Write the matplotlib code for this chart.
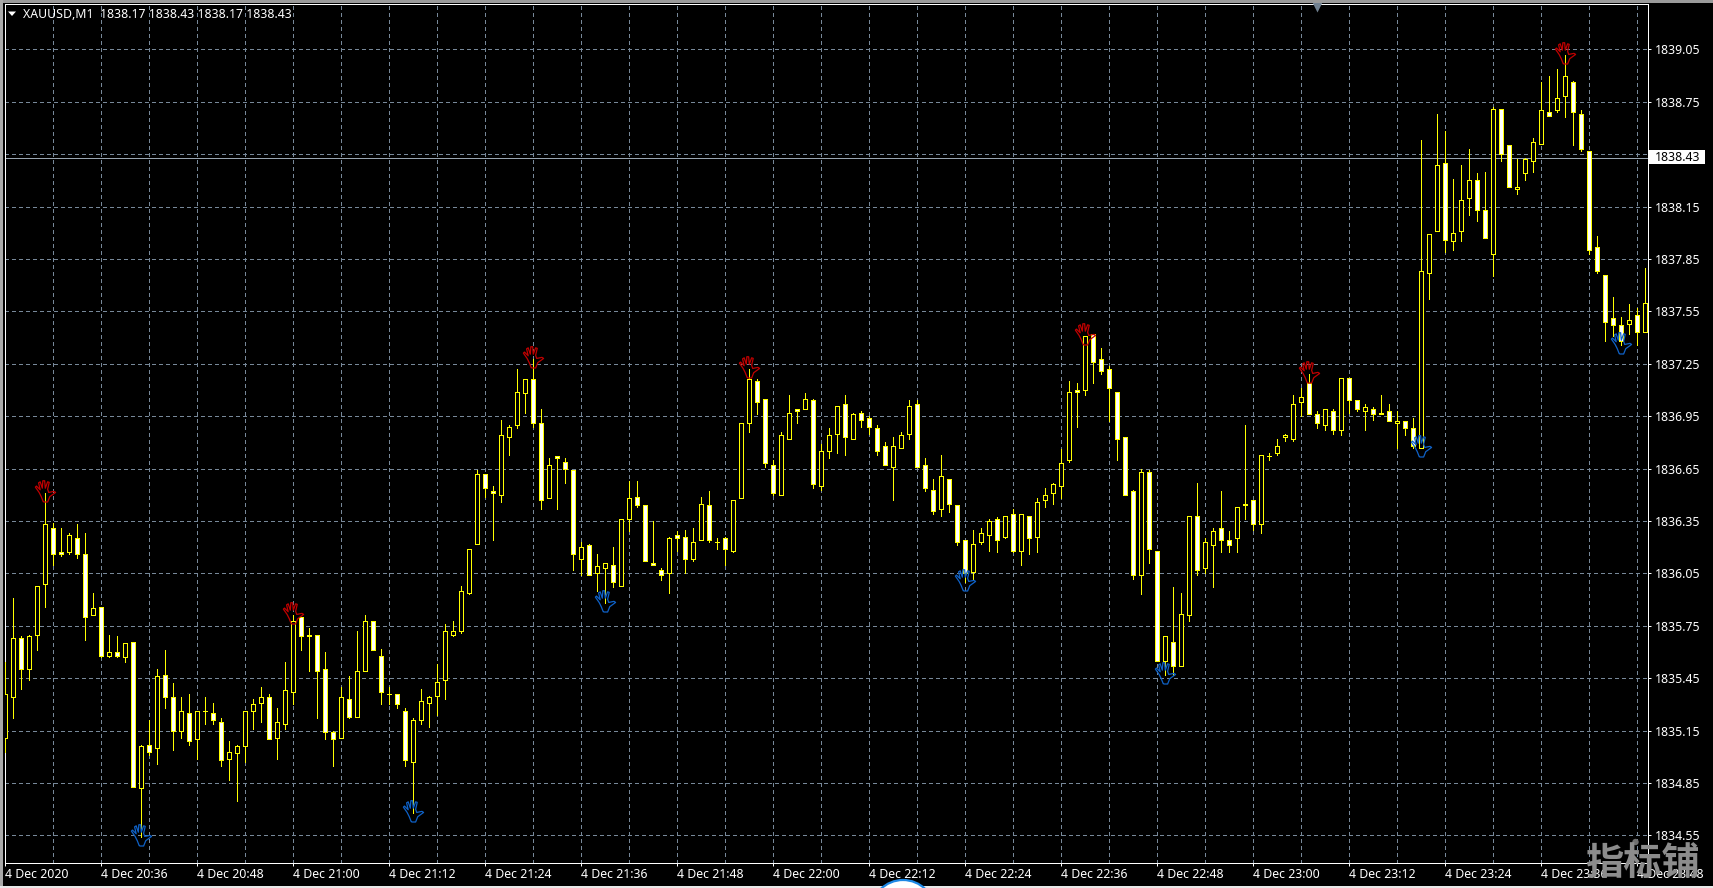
import numpy as np
import matplotlib
matplotlib.use("Agg")
import matplotlib.pyplot as plt
from matplotlib.path import Path
from matplotlib.patches import Rectangle, Circle, Polygon
from matplotlib.transforms import Affine2D, blended_transform_factory

BASE = 1800
opens_rel = [
35.11,35.34,35.68,35.50,35.70,35.99,36.31,36.17,36.17,36.25,
36.16,35.81,35.86,35.58,35.60,35.57,35.66,34.82,35.07,35.05,
35.47,35.34,35.15,35.25,35.10,35.26,35.25,35.20,34.99,35.02,
35.06,35.26,35.31,35.34,35.11,35.19,35.37,35.80,35.70,35.70,
35.50,35.14,35.11,35.33,35.23,35.49,35.78,35.58,35.36,35.36,
35.26,34.97,35.21,35.31,35.35,35.44,35.70,35.72,35.94,36.22,
36.62,36.52,36.50,36.83,36.90,37.08,37.16,36.91,36.48,36.72,
36.69,36.64,36.13,36.21,36.05,36.08,36.10,35.98,36.36,36.49,
36.44,36.11,36.07,36.05,36.27,36.26,36.13,36.24,36.44,36.23,
36.25,36.18,36.48,36.91,37.15,37.05,36.67,36.50,36.82,36.99,
36.99,37.04,36.55,36.75,36.85,37.02,36.82,36.97,36.94,36.88,
36.78,36.66,36.77,36.85,37.02,36.67,36.53,36.42,36.59,36.44,
36.24,36.06,36.23,36.27,36.36,36.26,36.39,36.18,36.38,36.26,
36.47,36.51,36.55,36.70,37.10,37.10,37.42,37.28,37.22,37.09,
36.83,36.52,36.04,36.63,36.18,35.55,35.66,35.52,35.81,36.38,
36.08,36.21,36.31,36.24,36.25,36.45,36.47,36.33,36.72,36.74,
36.83,36.82,37.03,37.14,36.96,36.90,36.98,36.87,37.17,37.04,
36.98,36.99,36.97,36.98,36.91,36.92,36.88,36.77,37.77,38.01,
38.40,37.95,38.01,38.20,38.30,38.13,37.88,38.71,38.50,38.25,
38.34,38.41,38.51,38.69,38.70,38.78,38.86,38.68,38.47,37.92,
37.76,37.51,37.47,37.48,37.53,37.43]
highs_rel = [
35.54,35.91,35.69,35.70,35.98,36.51,36.34,36.31,36.28,36.33,
36.28,35.94,35.86,35.70,35.69,35.65,35.66,35.07,35.21,35.50,
35.61,35.42,35.34,35.36,35.26,35.34,35.31,35.22,35.09,35.07,
35.26,35.33,35.40,35.36,35.28,35.54,35.81,35.80,35.74,35.70,
35.60,35.15,35.40,35.46,35.72,35.81,35.78,35.62,35.40,35.36,
35.28,35.22,35.39,35.35,35.53,35.76,35.78,35.98,36.19,36.64,
36.62,36.55,36.93,36.90,37.22,37.16,37.28,36.99,36.71,36.72,
36.71,36.64,36.23,36.22,36.16,36.11,36.20,36.36,36.58,36.58,
36.44,36.35,36.08,36.26,36.29,36.30,36.31,36.49,36.52,36.25,
36.26,36.47,36.91,37.22,37.16,37.05,36.70,36.86,37.07,36.99,
37.08,37.05,36.79,36.88,37.01,37.07,36.97,36.98,36.95,36.90,
36.80,36.83,36.86,37.04,37.04,36.71,36.59,36.73,36.59,36.44,
36.24,36.30,36.31,36.36,36.37,36.38,36.42,36.39,36.38,36.48,
36.54,36.57,36.76,37.15,37.14,37.41,37.42,37.34,37.24,37.09,
36.83,36.53,36.65,36.64,36.18,35.69,35.97,35.94,36.38,36.57,
36.25,36.31,36.52,36.29,36.43,36.90,36.47,36.73,36.74,36.82,
36.85,37.07,37.11,37.19,36.98,36.99,36.99,37.17,37.17,37.04,
37.02,37.00,37.07,37.02,36.98,36.92,36.94,38.53,37.99,38.68,
38.58,38.31,38.39,38.48,38.34,38.35,38.72,38.71,38.50,38.42,
38.43,38.54,38.86,38.90,38.94,39.02,38.87,38.70,38.47,37.98,
37.76,37.63,37.52,37.59,37.57,37.80]
lows_rel = [
35.03,35.22,35.39,35.44,35.61,35.86,36.10,36.15,36.16,36.14,
35.67,35.81,35.57,35.57,35.57,35.54,34.83,34.54,35.01,34.96,
35.28,35.04,35.11,35.07,34.99,35.19,35.19,34.95,34.87,34.75,
34.97,35.16,35.20,35.10,34.99,35.16,35.30,35.61,35.49,35.22,
35.10,34.95,35.11,35.22,35.23,35.49,35.61,35.30,35.30,35.28,
34.95,34.68,35.19,35.17,35.24,35.33,35.69,35.71,35.93,36.22,
36.49,36.24,36.46,36.73,36.88,36.97,36.89,36.42,36.48,36.42,
36.57,36.07,36.04,36.04,35.95,35.88,35.97,35.98,36.29,36.43,
36.12,36.10,36.01,35.94,36.18,36.05,36.12,36.24,36.23,36.19,
36.10,36.17,36.48,36.86,36.96,36.66,36.50,36.50,36.82,36.91,
36.99,36.54,36.53,36.71,36.74,36.73,36.82,36.89,36.85,36.73,
36.67,36.47,36.77,36.82,36.66,36.52,36.39,36.38,36.40,36.21,
36.00,36.01,36.22,36.18,36.17,36.25,36.17,36.10,36.16,36.17,
36.43,36.45,36.48,36.69,36.89,37.07,37.14,37.19,36.92,36.70,
36.50,36.02,35.93,36.11,35.55,35.47,35.47,35.52,35.78,36.04,
36.05,35.97,36.17,36.17,36.17,36.36,36.30,36.28,36.70,36.73,
36.81,36.81,36.95,36.96,36.88,36.87,36.85,36.84,36.97,36.98,
36.87,36.93,36.96,36.92,36.77,36.84,36.77,36.77,37.62,38.01,
37.89,37.90,37.95,38.10,38.07,37.97,37.75,38.41,38.26,38.22,
38.30,38.35,38.51,38.67,38.69,38.66,38.50,38.47,37.88,37.77,
37.38,37.41,37.36,37.42,37.36,37.43]
closes_rel = [
35.36,35.68,35.50,35.69,35.98,36.33,36.16,36.16,36.27,36.16,
35.80,35.85,35.58,35.60,35.58,35.65,34.83,35.06,35.03,35.46,
35.34,35.15,35.26,35.09,35.26,35.26,35.21,34.98,35.03,35.06,
35.26,35.30,35.34,35.10,35.20,35.38,35.78,35.69,35.69,35.49,
35.14,35.10,35.34,35.23,35.49,35.78,35.61,35.37,35.36,35.30,
34.98,35.21,35.32,35.34,35.43,35.72,35.72,35.95,36.19,36.62,
36.54,36.51,36.84,36.89,37.09,37.16,36.91,36.47,36.67,36.71,
36.65,36.16,36.20,36.04,36.09,36.11,36.00,36.36,36.48,36.44,
36.12,36.10,36.04,36.25,36.25,36.13,36.23,36.45,36.24,36.23,
36.19,36.47,36.91,37.16,37.03,36.68,36.51,36.84,36.97,36.98,
37.05,36.56,36.75,36.84,37.01,36.83,36.96,36.93,36.89,36.75,
36.67,36.78,36.84,37.01,36.66,36.54,36.41,36.61,36.45,36.23,
36.05,36.22,36.28,36.35,36.24,36.38,36.18,36.39,36.25,36.46,
36.50,36.56,36.68,37.09,37.09,37.41,37.26,37.21,37.11,36.82,
36.50,36.04,36.63,36.19,35.55,35.69,35.52,35.82,36.38,36.07,
36.23,36.29,36.24,36.21,36.43,36.44,36.33,36.73,36.72,36.78,
36.84,37.02,37.06,36.96,36.91,36.99,36.87,37.17,37.04,36.99,
37.00,36.96,36.96,36.92,36.92,36.88,36.78,37.78,37.99,38.39,
37.96,38.00,38.19,38.30,38.13,37.97,38.71,38.45,38.26,38.26,
38.42,38.52,38.70,38.67,38.77,38.90,38.69,38.48,37.90,37.78,
37.49,37.47,37.38,37.50,37.43,37.60]

swing_high_idx = [5, 36, 66, 93, 135, 163, 195]
swing_low_idx = [17, 51, 75, 120, 145, 177, 202]
price_ticks = [1834.55,1834.85,1835.15,1835.45,1835.75,1836.05,1836.35,1836.65,
               1836.95,1837.25,1837.55,1837.85,1838.15,1838.45,1838.75,1839.05]
hidden_price_tick = 1838.45
current_price = 1838.43
time_tick_labels = ["4 Dec 2020","4 Dec 20:36","4 Dec 20:48","4 Dec 21:00","4 Dec 21:12",
                    "4 Dec 21:24","4 Dec 21:36","4 Dec 21:48","4 Dec 22:00","4 Dec 22:12",
                    "4 Dec 22:24","4 Dec 22:36","4 Dec 22:48","4 Dec 23:00","4 Dec 23:12",
                    "4 Dec 23:24","4 Dec 23:36","4 Dec 23:48"]
header_text = "XAUUSD,M1  1838.17 1838.43 1838.17 1838.43"
watermark = "指标铺"

W, H = 1713, 888
FONT = ["Noto Sans", "DejaVu Sans"]
FS = 8.85
PX = 0.72
GRID = "#778899"
fig = plt.figure(figsize=(W/100, H/100), dpi=100, facecolor="black")
px = Affine2D().scale(1, -1).translate(0, H)   # image pixels, y down

L, R, T, B = 4.5, 1647.5, 4.5, 862.5
ax = fig.add_axes([L/W, 1-B/H, (R-L)/W, (B-T)/H], facecolor="black")

o = BASE + np.array(opens_rel)
h = BASE + np.array(highs_rel)
l = BASE + np.array(lows_rel)
c = BASE + np.array(closes_rel)
x = np.arange(len(o))

ax.set_xlim((L-5.33)/8, (R-5.33)/8)
ax.set_ylim(1839.05-(B-49.3)/174.7, 1839.05-(T-49.3)/174.7)

ax.vlines(x, l, h, colors="#FFFF00", linewidth=PX, zorder=3, antialiased=False)
bottom = np.minimum(o, c)
height = np.abs(c-o)
fills = ["white" if cc < oo else "black" for oo, cc in zip(o, c)]
ax.bar(x, height, bottom=bottom, width=0.5, color=fills, edgecolor="#FFFF00",
       linewidth=PX, zorder=4, antialiased=False)

# hand marks
hand = np.array([(-2,-10),(-4,-5),(-6,-1),(-9.5,4),(-8.5,5),(-5,1.5),(-6.5,8),(-5,9),(-3,3),
                 (-2.5,10),(-0.8,10),(-0.2,3),(2,9),(3.5,8.5),(2,2),(3,-1),(8,0),(9.5,-1),
                 (4,-5),(2,-10),(-2,-10)], dtype=float)
hand[:, 1] += 2
hand_path = Path(hand)
ms = 25.5*PX
ax.plot(swing_high_idx, h[swing_high_idx], ls="none", marker=hand_path, ms=ms, mfc="none",
        mec="#C00000", mew=0.9, zorder=6)
ax.plot(swing_low_idx, l[swing_low_idx], ls="none", marker=hand_path, ms=ms, mfc="none",
        mec="#0F62C8", mew=0.9, zorder=6)

# grid and axes
ax.set_xticks(np.arange(0, 206, 12))
ax.set_xticks(np.arange(6, 206, 12), minor=True)
ax.set_yticks(price_ticks)
ax.yaxis.tick_right()
ax.grid(True, which="both", color=GRID, linewidth=PX, linestyle=(0, (3, 3)), zorder=1,
        antialiased=False)
ax.set_axisbelow(True)
ax.tick_params(axis="x", which="minor", length=0)
ax.tick_params(axis="x", which="major", length=3*PX, width=PX, color="white", pad=2.0,
               labelcolor="white", labelsize=FS)
ax.tick_params(axis="y", length=3*PX, width=PX, color="white", pad=2.8,
               labelcolor="white", labelsize=FS)
ax.set_xticklabels(time_tick_labels, ha="left", family=FONT)
ax.set_yticklabels(["" if abs(v-hidden_price_tick) < 1e-6 else f"{v:.2f}" for v in price_ticks],
                   family=FONT)
for s in ax.spines.values():
    s.set_color("white")
    s.set_linewidth(PX)

ax.axhline(current_price, color="#98A4B0", linewidth=PX, zorder=2, antialiased=False)

# shift marker at the top of the chart
tr = blended_transform_factory(ax.transData, ax.transAxes)
ax.plot([164], [0.9975], ls="none", marker="v", ms=7*PX*1.4, color="#708090", mec="none",
        transform=tr, clip_on=False, zorder=5)

# current price label
fig.add_artist(Rectangle((1649, 150), 56, 14, transform=px, facecolor="white", edgecolor="none"))
fig.text(1654.7, 157.5, f"{current_price:.2f}", transform=px, color="black", fontsize=FS,
         family=FONT, ha="left", va="center")

# header
fig.add_artist(Polygon([(8, 11.5), (16, 11.5), (12, 16)], closed=True, transform=px,
                       facecolor="white", edgecolor="none"))
fig.text(23, 14.5, header_text, transform=px, color="white", fontsize=FS, family=FONT,
         ha="left", va="center")

# window edges
fig.add_artist(Rectangle((0, 0), W, 3, transform=px, facecolor="#9a9a9a", edgecolor="none"))
fig.add_artist(Rectangle((0, 0), 2.5, H, transform=px, facecolor="#a8a8a8", edgecolor="none"))
fig.add_artist(Rectangle((0, 886), W, 2, transform=px, facecolor="#e8e8e8", edgecolor="none"))
fig.add_artist(Circle((903, 912), 32, transform=px, facecolor="white", edgecolor="#1E88E5",
                      linewidth=1.6))

# watermark
fig.text(1642, 864, watermark, transform=px, color="#8C8C8C", fontsize=27.5, weight="bold",
         family=["Noto Sans CJK SC", "DejaVu Sans"], ha="center", va="center", zorder=20)
fig.add_artist(Circle((1635.5, 842), 3.2, transform=px, facecolor="#707070", edgecolor="none"))

fig.savefig("out.png", dpi=100, facecolor="black")
